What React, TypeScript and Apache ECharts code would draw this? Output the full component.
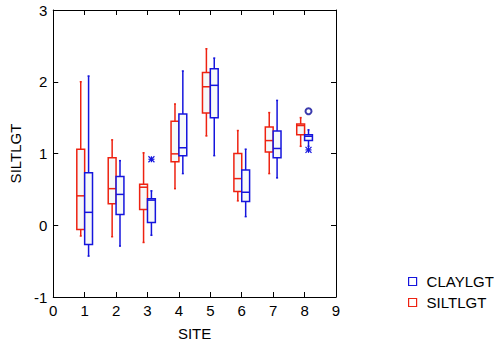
import React, { useEffect, useRef } from "react";
import * as echarts from "echarts";

const sites = [1, 2, 3, 4, 5, 6, 7, 8];
// [min, q1, median, q3, max]
const siltStats = [
  [-0.15, -0.06, 0.41, 1.06, 2.0],
  [-0.16, 0.3, 0.51, 0.94, 1.19],
  [-0.24, 0.22, 0.53, 0.57, 1.01],
  [0.51, 0.885, 0.995, 1.45, 1.69],
  [1.245, 1.565, 1.93, 2.13, 2.46],
  [0.34, 0.47, 0.65, 1.0, 1.32],
  [0.72, 1.02, 1.18, 1.37, 1.57],
  [1.1, 1.26, 1.39, 1.41, 1.5],
];
const clayStats = [
  [-0.43, -0.27, 0.18, 0.73, 2.08],
  [-0.29, 0.15, 0.43, 0.68, 0.9],
  [-0.14, 0.04, 0.35, 0.37, 0.48],
  [0.72, 0.97, 1.08, 1.55, 2.15],
  [0.97, 1.5, 1.95, 2.18, 2.33],
  [0.12, 0.33, 0.46, 0.77, 1.06],
  [0.66, 0.94, 1.07, 1.315, 1.74],
  [1.1, 1.18, 1.24, 1.26, 1.33],
];
// outliers: [site, value]
const clayStarOutliers = [
  [3, 0.92],
  [8, 1.05],
];
const clayCircleOutliers = [[8, 1.59]];

const xTicks = [0, 1, 2, 3, 4, 5, 6, 7, 8, 9];
const yTicks = [-1, 0, 1, 2, 3];

const RED = "#ee2211";
const BLUE = "#1515dd";
const FONT = "Liberation Sans";
const FS = 15;

function boxRender(offsetSign: number, color: string) {
  return (params: any, api: any) => {
    const x = api.value(0);
    const mn = api.value(1);
    const q1 = api.value(2);
    const md = api.value(3);
    const q3 = api.value(4);
    const mx = api.value(5);
    const xa = offsetSign < 0 ? x - 0.25 : x;
    const xb = offsetSign < 0 ? x : x + 0.25;
    const xc = (xa + xb) / 2;
    const pA = api.coord([xa, q3]);
    const pB = api.coord([xb, q1]);
    const pM1 = api.coord([xa, md]);
    const pM2 = api.coord([xb, md]);
    const wTop = api.coord([xc, mx]);
    const wQ3 = api.coord([xc, q3]);
    const wQ1 = api.coord([xc, q1]);
    const wBot = api.coord([xc, mn]);
    const st = { stroke: color, lineWidth: 1.5, fill: null };
    return {
      type: "group",
      children: [
        {
          type: "rect",
          shape: { x: pA[0], y: pA[1], width: pB[0] - pA[0], height: pB[1] - pA[1] },
          style: { fill: "#f6f9f9", stroke: color, lineWidth: 1.5 },
        },
        { type: "line", shape: { x1: pM1[0], y1: pM1[1], x2: pM2[0], y2: pM2[1] }, style: st },
        { type: "line", shape: { x1: wTop[0], y1: wTop[1], x2: wQ3[0], y2: wQ3[1] }, style: st },
        { type: "line", shape: { x1: wQ1[0], y1: wQ1[1], x2: wBot[0], y2: wBot[1] }, style: st },
        { type: "line", shape: { x1: wTop[0] - 1, y1: wTop[1], x2: wTop[0] + 1, y2: wTop[1] }, style: st },
        { type: "line", shape: { x1: wBot[0] - 1, y1: wBot[1], x2: wBot[0] + 1, y2: wBot[1] }, style: st },
      ],
    };
  };
}

function starRender(params: any, api: any) {
  const p = api.coord([api.value(0) + 0.125, api.value(1)]);
  const r = 3;
  const st = { stroke: BLUE, lineWidth: 1.2 };
  return {
    type: "group",
    children: [
      { type: "line", shape: { x1: p[0] - r, y1: p[1], x2: p[0] + r, y2: p[1] }, style: st },
      { type: "line", shape: { x1: p[0], y1: p[1] - r, x2: p[0], y2: p[1] + r }, style: st },
      { type: "line", shape: { x1: p[0] - r, y1: p[1] - r, x2: p[0] + r, y2: p[1] + r }, style: st },
      { type: "line", shape: { x1: p[0] - r, y1: p[1] + r, x2: p[0] + r, y2: p[1] - r }, style: st },
    ],
  };
}

export default function App() {
  const ref = useRef<HTMLDivElement>(null);
  useEffect(() => {
    if (!ref.current) return;
    const chart = echarts.init(ref.current, null, { renderer: "svg" });
    const siltData = sites.map((s, i) => [s, ...siltStats[i]]);
    const clayData = sites.map((s, i) => [s, ...clayStats[i]]);
    const axisCommon = {
      axisLine: { show: true, onZero: false, lineStyle: { color: "#000", width: 1 } },
      axisTick: { show: true, inside: true, length: 5, lineStyle: { color: "#000" } },
      splitLine: { show: false },
    };
    chart.setOption({
      animation: false,
      backgroundColor: "#fff",
      textStyle: { fontFamily: FONT },
      grid: { left: 48, right: 158, top: 10, bottom: 48, containLabel: false },
      legend: {
        orient: "vertical",
        left: 403,
        top: 269,
        itemWidth: 8,
        itemHeight: 8,
        itemGap: 6,
        icon: "rect",
        textStyle: { fontSize: FS, color: "#000", fontFamily: FONT, lineHeight: 15, padding: [0, 0, 0, 5] },
        data: [
          { name: "CLAYLGT", itemStyle: { color: "#fff", borderColor: BLUE, borderWidth: 1.2 } },
          { name: "SILTLGT", itemStyle: { color: "#fff", borderColor: RED, borderWidth: 1.2 } },
        ],
      },
      xAxis: [
        {
          type: "value",
          min: xTicks[0],
          max: xTicks[xTicks.length - 1],
          interval: 1,
          position: "bottom",
          name: "SITE",
          nameLocation: "middle",
          nameGap: 29,
          nameTextStyle: { fontSize: FS, color: "#000", fontFamily: FONT },
          axisLabel: { fontSize: FS, color: "#000", margin: 6, fontFamily: FONT },
          ...axisCommon,
        },
        {
          type: "value",
          min: xTicks[0],
          max: xTicks[xTicks.length - 1],
          interval: 1,
          position: "top",
          axisLabel: { show: false },
          ...axisCommon,
        },
      ],
      yAxis: [
        {
          type: "value",
          min: yTicks[0],
          max: yTicks[yTicks.length - 1],
          interval: 1,
          position: "left",
          name: "SILTLGT",
          nameLocation: "middle",
          nameGap: 30,
          nameRotate: 90,
          nameTextStyle: { fontSize: FS, color: "#000", fontFamily: FONT },
          axisLabel: { fontSize: FS, color: "#000", margin: 6, fontFamily: FONT },
          ...axisCommon,
        },
        {
          type: "value",
          min: yTicks[0],
          max: yTicks[yTicks.length - 1],
          interval: 1,
          position: "right",
          axisLabel: { show: false },
          ...axisCommon,
        },
      ],
      series: [
        {
          name: "SILTLGT",
          type: "custom",
          renderItem: boxRender(-1, RED),
          data: siltData,
          itemStyle: { color: RED },
          encode: { x: 0, y: [1, 5] },
        },
        {
          name: "CLAYLGT",
          type: "custom",
          renderItem: boxRender(1, BLUE),
          data: clayData,
          itemStyle: { color: BLUE },
          encode: { x: 0, y: [1, 5] },
        },
        {
          name: "CLAYLGT",
          type: "custom",
          renderItem: starRender,
          data: clayStarOutliers,
          itemStyle: { color: BLUE },
          encode: { x: 0, y: 1 },
        },
        {
          name: "CLAYLGT",
          type: "scatter",
          data: clayCircleOutliers.map((d) => [d[0] + 0.125, d[1]]),
          symbol: "emptyCircle",
          symbolSize: 6,
          itemStyle: { color: "#0a0a99", borderColor: "#0a0a99", borderWidth: 1.2 },
        },
      ],
    });
    return () => chart.dispose();
  }, []);
  return <div ref={ref} style={{ width: 494, height: 346, position: "absolute", left: 0, top: 0 }} />;
}
